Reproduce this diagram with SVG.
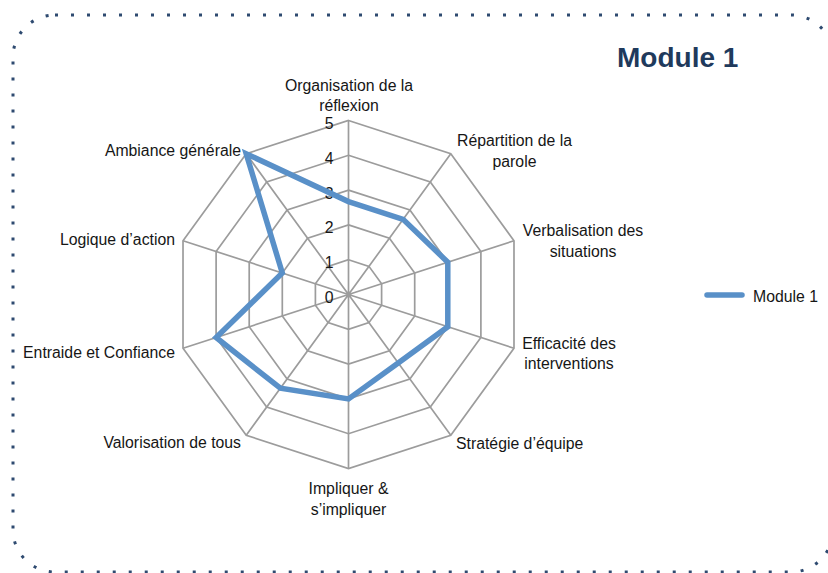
<svg xmlns="http://www.w3.org/2000/svg" width="828" height="573" viewBox="0 0 828 573">
<style>
.grid{fill:none;stroke:#9c9c9c;stroke-width:1.7}
.lbl{font-family:"Liberation Sans",Arial,sans-serif;font-size:15.8px;fill:#161616}
.tick{font-family:"Liberation Sans",Arial,sans-serif;font-size:15.8px;fill:#161616;text-anchor:end}
.mid{text-anchor:middle}
.end{text-anchor:end}
.series{fill:none;stroke:#5990c8;stroke-width:5.5;stroke-linejoin:miter;stroke-miterlimit:6}
</style>
<rect width="828" height="573" fill="#ffffff"/>
<rect id="border" x="13" y="15" width="820" height="557" rx="42" ry="42" fill="none" stroke="#2e4a70" stroke-width="3" stroke-dasharray="3 13"/>
<text id="title" x="617" y="66.5" font-family="'Liberation Sans',Arial,sans-serif" font-size="28" font-weight="bold" fill="#1f3a5c">Module 1</text>
<g id="grid">
<polygon class="grid" points="348.5,120.5 450.78,153.73 513.99,240.73 513.99,348.27 450.78,435.27 348.5,468.5 246.22,435.27 183.01,348.27 183.01,240.73 246.22,153.73"/>
<polygon class="grid" points="348.5,155.3 430.32,181.89 480.89,251.49 480.89,337.51 430.32,407.11 348.5,433.7 266.68,407.11 216.11,337.51 216.11,251.49 266.68,181.89"/>
<polygon class="grid" points="348.5,190.1 409.87,210.04 447.79,262.24 447.79,326.76 409.87,378.96 348.5,398.9 287.13,378.96 249.21,326.76 249.21,262.24 287.13,210.04"/>
<polygon class="grid" points="348.5,224.9 389.41,238.19 414.7,272.99 414.7,316.01 389.41,350.81 348.5,364.1 307.59,350.81 282.3,316.01 282.3,272.99 307.59,238.19"/>
<polygon class="grid" points="348.5,259.7 368.96,266.35 381.6,283.75 381.6,305.25 368.96,322.65 348.5,329.3 328.04,322.65 315.4,305.25 315.4,283.75 328.04,266.35"/>
<path class="grid" d="M348.5,294.5L348.5,120.5M348.5,294.5L450.78,153.73M348.5,294.5L513.99,240.73M348.5,294.5L513.99,348.27M348.5,294.5L450.78,435.27M348.5,294.5L348.5,468.5M348.5,294.5L246.22,435.27M348.5,294.5L183.01,348.27M348.5,294.5L183.01,240.73M348.5,294.5L246.22,153.73"/>
</g>
<g id="ticks">
<text class="tick" x="333.5" y="129">5</text>
<text class="tick" x="333.5" y="163.8">4</text>
<text class="tick" x="333.5" y="198.6">3</text>
<text class="tick" x="333.5" y="233.4">2</text>
<text class="tick" x="333.5" y="268.2">1</text>
<text class="tick" x="333.5" y="303">0</text>
</g>
<g id="series">
<polygon class="series" points="348.5,201.6 403.11,219.34 447.79,262.24 447.79,326.76 398.2,362.91 348.5,398.9 280.38,388.26 216.11,337.51 282.3,272.99 246.22,153.73"/>
</g>
<g id="labels">
<g id="lbl-organisation"><text class="lbl mid" x="349" y="91">Organisation de la</text><text class="lbl mid" x="349" y="110.5">réflexion</text></g>
<g id="lbl-repartition"><text class="lbl mid" x="514.5" y="146">Répartition de la</text><text class="lbl mid" x="514.5" y="166.5">parole</text></g>
<g id="lbl-verbalisation"><text class="lbl mid" x="583" y="235.5">Verbalisation des</text><text class="lbl mid" x="583" y="256.5">situations</text></g>
<g id="lbl-efficacite"><text class="lbl mid" x="569" y="348.5">Efficacité des</text><text class="lbl mid" x="569" y="369">interventions</text></g>
<g id="lbl-strategie"><text class="lbl" x="456" y="448.5">Stratégie d’équipe</text></g>
<g id="lbl-impliquer"><text class="lbl mid" x="348.5" y="494">Impliquer &amp;</text><text class="lbl mid" x="348.5" y="515">s’impliquer</text></g>
<g id="lbl-valorisation"><text class="lbl end" x="241" y="448">Valorisation de tous</text></g>
<g id="lbl-entraide"><text class="lbl end" x="175" y="358">Entraide et Confiance</text></g>
<g id="lbl-logique"><text class="lbl end" x="175" y="245">Logique d’action</text></g>
<g id="lbl-ambiance"><text class="lbl end" x="241" y="156">Ambiance générale</text></g>
</g>
<g id="legend">
<line x1="707" y1="295" x2="742" y2="295" stroke="#5990c8" stroke-width="5.5" stroke-linecap="round"/>
<text class="lbl" x="753" y="302">Module 1</text>
</g>
</svg>
